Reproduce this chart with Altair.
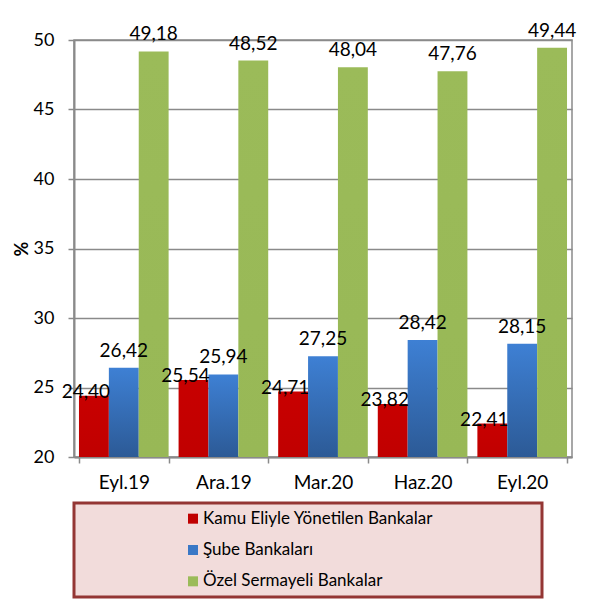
import altair as alt
import pandas as pd

categories = ["Eyl.19", "Ara.19", "Mar.20", "Haz.20", "Eyl.20"]
series = ["Kamu Eliyle Yönetilen Bankalar", "Şube Bankaları", "Özel Sermayeli Bankalar"]
kamu = [24.40, 25.54, 24.71, 23.82, 22.41]
sube = [26.42, 25.94, 27.25, 28.42, 28.15]
ozel = [49.18, 48.52, 48.04, 47.76, 49.44]
y_ticks = [20, 25, 30, 35, 40, 45, 50]

rows = []
for s, vals in zip(series, [kamu, sube, ozel]):
    for c, v in zip(categories, vals):
        rows.append({"cat": c, "series": s, "value": v,
                     "label": f"{v:.2f}".replace(".", ",")})
df = pd.DataFrame(rows)

FONT = "Lato"
GRID = "#8a8a8a"

x_enc = alt.X("cat:N", sort=categories, title=None,
              scale=alt.Scale(paddingInner=0.1, paddingOuter=0.05),
              axis=alt.Axis(labelAngle=0, labelFontSize=19, labelFont=FONT,
                            labelColor="black", tickBand="extent", tickSize=6,
                            tickColor=GRID, tickWidth=1.5, domainColor=GRID,
                            domainWidth=2, labelPadding=10))
xoff = alt.XOffset("series:N", sort=series,
                   scale=alt.Scale(domain=series, paddingInner=0, paddingOuter=0))
y_enc = alt.Y("value:Q", title="%",
              scale=alt.Scale(domain=[20, 50], zero=False, nice=False),
              axis=alt.Axis(values=y_ticks, labelFontSize=18, labelFont=FONT,
                            labelColor="black", tickSize=6, tickColor=GRID,
                            tickWidth=1.5, domainColor=GRID, domainWidth=2,
                            gridColor=GRID, gridWidth=1.5, labelPadding=14,
                            titleFontSize=18, titleFont=FONT, titleColor="black",
                            titleFontWeight="bold", titleAngle=-90, titlePadding=2))

def grad(top, bottom):
    return alt.LinearGradient(gradient="linear", x1=0, y1=0, x2=0, y2=1,
                              stops=[alt.GradientStop(offset=0, color=top),
                                     alt.GradientStop(offset=1, color=bottom)])

fills = [grad("#c80000", "#c00000"), grad("#3e80d4", "#2c5a96"), grad("#9bbb59", "#98b856")]
label_dx = [-8, 0, 0]
label_dy = [-4, -17, -17]

layers = []
for i, s in enumerate(series):
    sub = alt.Chart(df).transform_filter(alt.datum.series == s)
    layers.append(sub.mark_bar(color=fills[i]).encode(
        x=x_enc, xOffset=xoff, y=y_enc, y2=alt.datum(20)))
for i, s in enumerate(series):
    sub = alt.Chart(df).transform_filter(alt.datum.series == s)
    layers.append(sub.mark_text(fontSize=19, font=FONT, color="black",
                                baseline="middle", dx=label_dx[i], dy=label_dy[i]).encode(
        x=x_enc, xOffset=xoff, y="value:Q", text="label:N"))

main = alt.layer(*layers).properties(
    width=498, height=417,
    view=alt.ViewBackground(stroke=GRID, strokeWidth=1.5))

leg_df = pd.DataFrame({"series": series})
colors = ["#c00000", "#3a78c6", "#9bbb59"]
leg_base = alt.Chart(leg_df)
leg_sq = leg_base.mark_square(size=100, opacity=1).encode(
    x=alt.value(119),
    y=alt.Y("series:N", sort=series, axis=None),
    color=alt.Color("series:N", scale=alt.Scale(domain=series, range=colors), legend=None))
leg_tx = leg_base.mark_text(align="left", baseline="middle", fontSize=17,
                            font=FONT, color="black").encode(
    x=alt.value(129),
    y=alt.Y("series:N", sort=series, axis=None),
    text="series:N")
legend = alt.layer(leg_sq, leg_tx).properties(
    width=468, height=94,
    view=alt.ViewBackground(fill="#f2dcdb", stroke="#943634", strokeWidth=3))

chart = alt.vconcat(main, legend, spacing=46).properties(
    bounds="flush",
    padding={"left": 4, "top": 13, "right": 5, "bottom": 5},
    background="white")

chart.save("out.html", embed_options={"renderer": "svg", "actions": False})
